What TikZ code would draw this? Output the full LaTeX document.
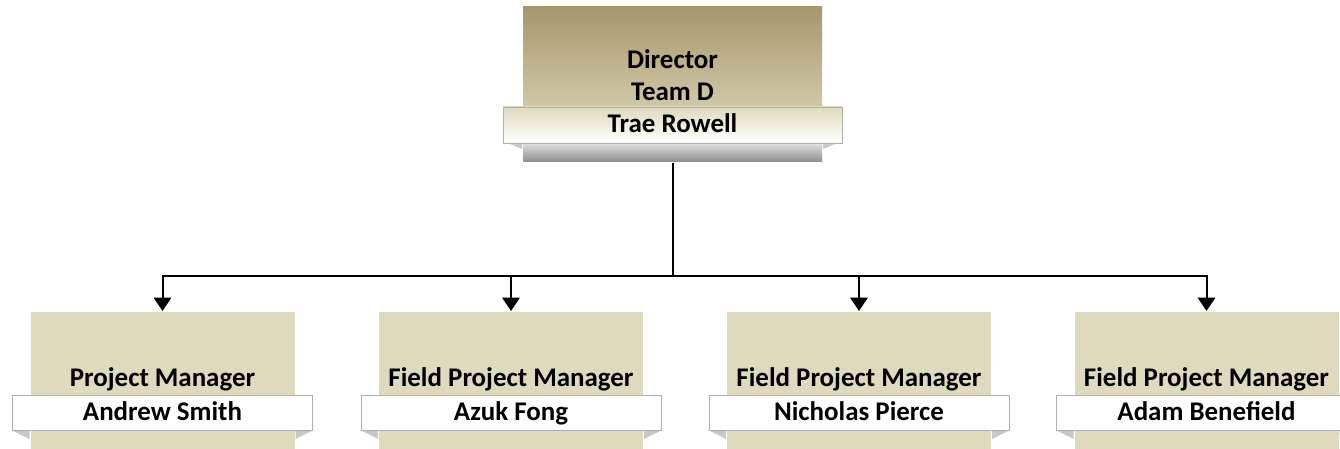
\documentclass[tikz,border=0pt]{standalone}
\usepackage{fontspec}
\setmainfont{Carlito}
\usetikzlibrary{arrows.meta,positioning}

\definecolor{khaki}{RGB}{222,218,190}
\definecolor{darkkhaki}{RGB}{166,151,107}
\definecolor{barline}{RGB}{175,175,175}
\definecolor{tabgrey}{RGB}{200,200,200}

\tikzset{
  headbody/.style={rectangle, inner sep=0pt, minimum width=224.25pt,
                   minimum height=102pt, top color=darkkhaki, bottom color=khaki,
                   align=center},
  headbar/.style={rectangle, draw=barline, line width=0.6pt, inner sep=0pt,
                  minimum width=254.25pt, minimum height=27pt,
                  text height=14pt, text depth=2.5pt,
                  top color=khaki, bottom color=white},
  headshelf/.style={rectangle, inner sep=0pt, minimum width=224.25pt,
                    minimum height=14.25pt, top color=black!12, bottom color=black!45},
  staffbody/.style={rectangle, fill=khaki, inner sep=0pt, minimum width=198pt,
                    minimum height=111pt},
  staffbar/.style={rectangle, fill=white, draw=barline, line width=0.6pt,
                   inner sep=0pt, minimum width=225pt, minimum height=26.25pt,
                   text height=14pt, text depth=2.5pt},
  staffrole/.style={inner sep=0pt, text height=14pt, text depth=4pt},
  stafftab/.style={fill=tabgrey},
}

\begin{document}
\begin{tikzpicture}[x=0.75pt,y=-0.75pt,
                    font=\fontsize{20.2}{24}\selectfont\bfseries,
                    >={Triangle[width=13pt,length=10pt]}, line width=1.5pt]
  \useasboundingbox (0,0) rectangle (1340,449);
  \clip (0,0) rectangle (1340,449);

  % director
  \node[headbody]  (dir)      at (672.5,75)    {Director\\Team D};
  \node[headshelf] (dirshelf) at (672.5,152.5) {};
  \fill[stafftab] (dirshelf.north west) ++(-19,-1) -- ++(19,0) -- ++(0,8) -- cycle;
  \fill[stafftab] (dirshelf.north east) ++(19,-1) -- ++(-19,0) -- ++(0,8) -- cycle;
  \node[headbar]   (dirname)  at (672.5,125)   {Trae Rowell};

  \coordinate (hub) at (672.5,276);
  \draw (dirshelf.south) -- (hub);

  % staff
  \foreach \i/\x/\role/\who in {1/162.5/Project Manager/Andrew Smith,
                                2/511/Field Project Manager/Azuk Fong,
                                3/859/Field Project Manager/Nicholas Pierce,
                                4/1206.5/Field Project Manager/Adam Benefield}
  {
    \node[staffbody] (pm\i) at (\x,386) {};
    \fill[stafftab] (pm\i.west |- 430,430) ++(-18,0) -- ++(18,0) -- ++(0,9) -- cycle;
    \fill[stafftab] (pm\i.east |- 430,430) ++(18,0) -- ++(-18,0) -- ++(0,9) -- cycle;
    \node[staffbar] (who\i) at (\x,412.5) {\who};
    \node[staffrole, above=1.5pt of who\i] (role\i) {\role};
    \draw[->] (hub) -| (pm\i.north);
  }
\end{tikzpicture}
\end{document}
